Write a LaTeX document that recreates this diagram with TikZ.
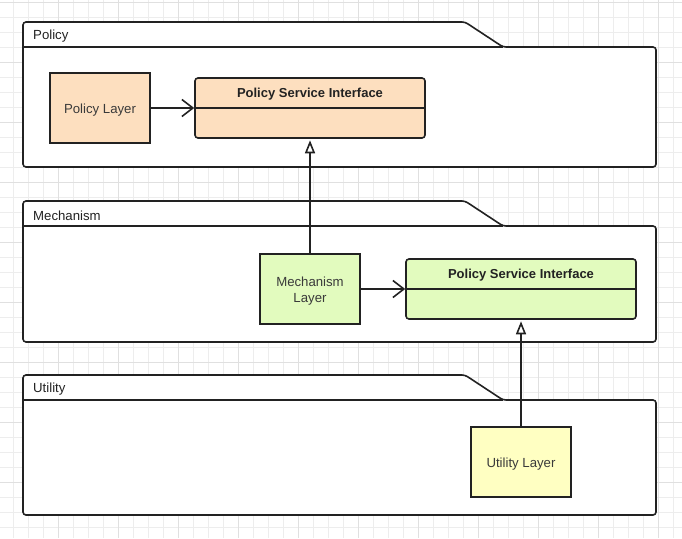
\documentclass[tikz,border=0pt]{standalone}
\usepackage{fontspec}
\setmainfont{Liberation Sans}
\usetikzlibrary{arrows.meta}
\definecolor{gridminor}{HTML}{EDEDED}
\definecolor{gridmajor}{HTML}{E0E0E0}
\definecolor{linec}{HTML}{222222}
\definecolor{textc}{HTML}{3A3A3A}
\definecolor{peach}{HTML}{FDDFBF}
\definecolor{lgreen}{HTML}{E2FBBE}
\definecolor{lyellow}{HTML}{FFFFC2}
\newcommand{\lowered}[1]{\raisebox{-2pt}[\height][\depth]{#1}}
\tikzset{
  pkgline/.style={draw=linec, line width=1.6pt, fill=white, rounded corners=3pt},
  pkglabel/.style={anchor=west, text=linec, font=\fontsize{13.2}{15}\selectfont, inner sep=0pt},
  layerbox/.style={draw=linec, line width=1.6pt, minimum width=100pt, minimum height=70pt, text=textc, font=\fontsize{13.2}{16.5}\selectfont, inner sep=0pt},
  ifacebox/.style={draw=linec, line width=1.6pt, rounded corners=3pt, minimum width=230pt, minimum height=60pt, inner sep=0pt},
  ifacetitle/.style={text=linec, font=\bfseries\fontsize{13}{15}\selectfont, inner sep=0pt},
  usesarrow/.style={draw=linec, line width=1.6pt, -{Straight Barb[length=11pt,width=17pt,line width=1.6pt]}},
  implarrow/.style={draw=linec, line width=1.6pt, -{Triangle[open,fill=white,length=13pt,width=10pt,line width=1.6pt]}},
}
\begin{document}
\begin{tikzpicture}[x=1pt,y=-1pt]
\useasboundingbox (0,0) rectangle (682,538);
\fill[white] (0,0) rectangle (682,538);
% grid
\foreach \x in {13,28,...,680} \draw[gridminor, line width=0.8pt] (\x,0) -- (\x,538);
\foreach \y in {2,17,...,537} \draw[gridminor, line width=0.8pt] (0,\y) -- (682,\y);
\foreach \x in {58,118,...,680} \draw[gridmajor, line width=0.9pt] (\x,0) -- (\x,538);
\foreach \y in {2,62,...,537} \draw[gridmajor, line width=0.9pt] (0,\y) -- (682,\y);

% Policy package
\path[pkgline] (23,167) -- (23,22) -- (465,22) -- (503,47) -- (656,47) -- (656,167) -- cycle;
\draw[draw=linec, line width=1.6pt] (23,47) -- (503,47);
\node[pkglabel] (policylbl) at (33,36) {Policy};

% Mechanism package
\path[pkgline] (23,342) -- (23,201) -- (465,201) -- (503,226) -- (656,226) -- (656,342) -- cycle;
\draw[draw=linec, line width=1.6pt] (23,226) -- (503,226);
\node[pkglabel] (mechlbl) at (33,215.5) {Mechanism};

% Utility package
\path[pkgline] (23,515) -- (23,375) -- (465,375) -- (503,400) -- (656,400) -- (656,515) -- cycle;
\draw[draw=linec, line width=1.6pt] (23,400) -- (503,400);
\node[pkglabel] (utillbl) at (33,389.5) {Utility};

% Policy contents
\node[layerbox, fill=peach] (policy) at (100,108) {\lowered{Policy Layer}};
\node[ifacebox, fill=peach] (psi1) at (310,108) {};
\draw[draw=linec, line width=1.6pt] (psi1.west) -- (psi1.east);
\node[ifacetitle] (psi1t) at (310,94.5) {Policy Service Interface};

% Mechanism contents
\node[layerbox, fill=lgreen] (mech) at (310,289) {\lowered{\begin{tabular}{@{}c@{}}Mechanism\\Layer\end{tabular}}};
\node[ifacebox, fill=lgreen] (psi2) at (521,289) {};
\draw[draw=linec, line width=1.6pt] (psi2.west) -- (psi2.east);
\node[ifacetitle] (psi2t) at (521,275.5) {Policy Service Interface};

% Utility contents
\node[layerbox, fill=lyellow] (util) at (521,462) {\lowered{Utility Layer}};

% connectors
\draw[usesarrow] (policy.east) -- (psi1.west);
\draw[usesarrow] (mech.east) -- (psi2.west);
\draw[implarrow] (mech.north) -- ([yshift=-1.5pt]psi1.south);
\draw[implarrow] (util.north) -- ([yshift=-1.5pt]psi2.south);
\end{tikzpicture}
\end{document}
